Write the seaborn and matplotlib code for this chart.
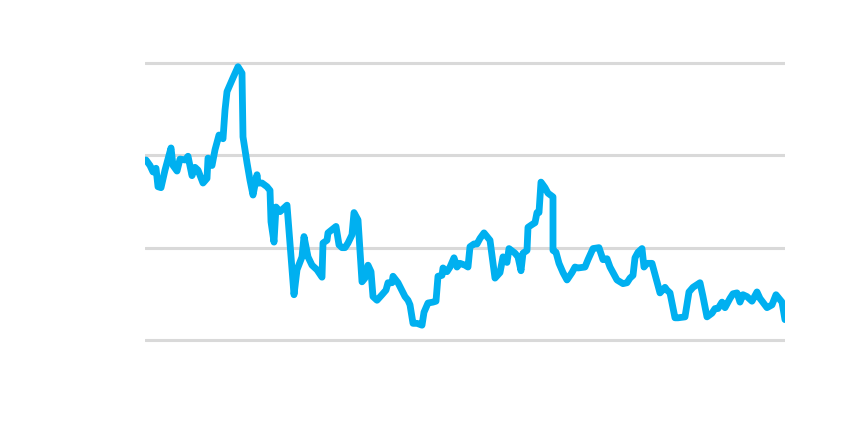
import numpy as np
import pandas as pd
import matplotlib
matplotlib.use("Agg")
import matplotlib.pyplot as plt
import seaborn as sns

# ─────────────────────────────────────────────
# DATA
# ─────────────────────────────────────────────
x_pos = [
    1, 5, 8, 11, 13, 16, 20, 26, 28, 32, 35, 40, 43, 47, 50, 53, 58, 62, 63, 67,
    70, 74, 78, 80, 82, 88, 93, 97, 98, 102, 105, 108, 112, 113, 117, 122, 125, 126, 129, 131,
    135, 142, 145, 149, 152, 157, 159, 163,
    167, 172, 177, 178, 182, 183, 191, 194, 197, 200, 203, 207, 209, 213, 217, 220, 223, 226, 228, 232,
    237, 241, 243, 247, 248, 253, 260, 263, 265, 268, 272, 277, 279, 283, 288, 291, 293, 297, 298, 302,
    305, 309, 312, 315, 320, 323, 325,
    329, 332, 335, 339, 345, 350, 355, 358, 362, 364, 370, 373, 376, 378, 382, 383, 387, 390, 392, 394,
    396, 400, 403, 408, 408, 411, 414, 418, 422, 427, 430, 433, 440, 443, 448, 454, 458, 462, 465, 468,
    472, 478, 482, 485,
    488, 490, 493, 497, 499, 502, 507, 512, 515, 520, 522, 525, 530, 533, 540, 544, 548, 555, 558, 562,
    567, 570, 573, 577, 580, 585, 588, 592, 595, 598, 602, 607, 612, 615, 622, 627, 631, 637, 640,
]
values = [
    19.5, 18.9, 18.2, 18.6, 16.6, 16.5, 18.4, 20.8, 18.9, 18.3, 19.6, 19.5, 19.9, 17.8, 18.7, 18.4, 17.0, 17.5, 19.7, 18.9,
    20.6, 22.2, 21.8, 24.9, 26.9, 28.4, 29.6, 28.9, 22.0, 19.2, 17.3, 15.7, 17.9, 17.0, 17.0, 16.6, 16.2, 12.8, 10.6, 14.4,
    13.9, 14.6, 10.5, 4.9, 7.6, 9.0, 11.2, 9.0,
    8.1, 7.6, 6.8, 10.5, 10.8, 11.6, 12.3, 10.3, 10.0, 10.0, 10.5, 11.4, 13.8, 13.0, 6.3, 6.7, 8.1, 7.4, 4.7, 4.3,
    4.9, 5.4, 6.2, 6.2, 6.9, 6.2, 4.7, 4.3, 3.8, 1.8, 1.8, 1.6, 3.0, 4.0, 4.1, 4.2, 6.9, 7.0, 7.8, 7.4,
    7.9, 8.9, 7.9, 8.3, 8.1, 7.9, 10.1,
    10.4, 10.4, 11.0, 11.6, 10.8, 6.7, 7.3, 9.0, 8.4, 9.9, 9.4, 9.0, 7.5, 9.4, 9.7, 12.2, 12.5, 12.7, 13.8, 13.8,
    17.1, 16.5, 15.9, 15.5, 9.7, 9.5, 8.3, 7.3, 6.5, 7.3, 7.9, 7.8, 7.9, 8.7, 9.9, 10.0, 8.7, 8.8, 7.9, 7.3,
    6.5, 6.1, 6.2, 6.7,
    7.0, 8.9, 9.5, 9.9, 7.9, 8.3, 8.3, 6.3, 5.1, 5.7, 5.4, 5.1, 2.4, 2.4, 2.5, 5.2, 5.7, 6.2, 4.7, 2.5,
    2.9, 3.4, 3.4, 4.1, 3.5, 4.5, 5.0, 5.1, 4.1, 4.9, 4.7, 4.2, 5.2, 4.5, 3.5, 3.8, 4.9, 4.1, 2.2,
]
y_ticks = [0, 10, 20, 30]

LINE_COLOR = "#00B0F0"
GRID_COLOR = "#D9D9D9"

df = pd.DataFrame({"x": x_pos, "value": values})

sns.set_style("white")
fig = plt.figure(figsize=(8.49, 4.23), dpi=100)
ax = fig.add_axes([0.1708, 0.1745, 0.7538, 0.6983])

sns.lineplot(data=df, x="x", y="value", ax=ax, sort=False, estimator=None,
             color=LINE_COLOR, linewidth=4.9, solid_joinstyle="round",
             solid_capstyle="round")

ax.set_xlim(0, 640)
ax.set_ylim(-1, 31)
ax.set_yticks(y_ticks)
ax.set_xticks([])
ax.grid(axis="y", color=GRID_COLOR, linewidth=2.2)
ax.set_axisbelow(True)
ax.tick_params(left=False, bottom=False, labelleft=False, labelbottom=False)
ax.set_xlabel("")
ax.set_ylabel("")
sns.despine(ax=ax, left=True, bottom=True)

fig.savefig("out.png", dpi=100)
